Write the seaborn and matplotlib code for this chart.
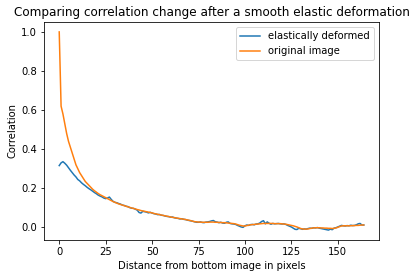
import matplotlib
matplotlib.use("Agg")
import matplotlib.pyplot as plt
import seaborn as sns
import numpy as np

title = "Comparing correlation change after a smooth elastic deformation"
xlabel = "Distance from bottom image in pixels"
ylabel = "Correlation"
label_deformed = "elastically deformed"
label_original = "original image"

original = [
    1.00, 0.62, 0.58, 0.53, 0.48, 0.44, 0.41, 0.38, 0.35, 0.32,
    0.30, 0.28, 0.265, 0.25, 0.235, 0.225, 0.215, 0.205, 0.195, 0.187,
    0.18, 0.173, 0.167, 0.162, 0.157, 0.152, 0.147, 0.142, 0.137, 0.132,
    0.128, 0.124, 0.120, 0.117, 0.114, 0.111, 0.108, 0.105, 0.102, 0.099,
    0.097, 0.094, 0.091, 0.089, 0.086, 0.084, 0.082, 0.080, 0.078, 0.076,
    0.074, 0.071, 0.069, 0.067, 0.065, 0.063, 0.061, 0.059, 0.057, 0.055,
    0.053, 0.051, 0.050, 0.048, 0.046, 0.045, 0.043, 0.042, 0.040, 0.038,
    0.036, 0.034, 0.031, 0.029, 0.028, 0.027, 0.027, 0.026, 0.026, 0.026,
    0.026, 0.027, 0.027, 0.027, 0.026, 0.026, 0.025, 0.025, 0.024, 0.024,
    0.023, 0.022, 0.021, 0.020, 0.019, 0.017, 0.014, 0.011, 0.009, 0.007,
    0.007, 0.009, 0.011, 0.013, 0.014, 0.015, 0.016, 0.017, 0.018, 0.019,
    0.020, 0.020, 0.020, 0.020, 0.020, 0.020, 0.019, 0.019, 0.019, 0.019,
    0.018, 0.017, 0.016, 0.014, 0.012, 0.010, 0.008, 0.005, 0.002, -0.002,
    -0.006, -0.008, -0.009, -0.009, -0.008, -0.006, -0.004, -0.003, -0.002, -0.002,
    -0.002, -0.003, -0.003, -0.004, -0.004, -0.005, -0.005, -0.006, -0.005, -0.003,
    0.000, 0.004, 0.007, 0.008, 0.008, 0.008, 0.008, 0.008, 0.009, 0.009,
    0.010, 0.010, 0.011, 0.012, 0.012,
]

deformed = [
    0.316, 0.330, 0.336, 0.328, 0.318, 0.305, 0.292, 0.280, 0.268, 0.258,
    0.245, 0.238, 0.228, 0.220, 0.213, 0.205, 0.198, 0.192, 0.185, 0.178,
    0.172, 0.165, 0.160, 0.156, 0.150, 0.147, 0.150, 0.155, 0.143, 0.133,
    0.128, 0.126, 0.122, 0.119, 0.114, 0.112, 0.108, 0.106, 0.101, 0.098,
    0.097, 0.093, 0.088, 0.076, 0.073, 0.082, 0.080, 0.078, 0.074, 0.077,
    0.073, 0.070, 0.068, 0.065, 0.066, 0.062, 0.061, 0.058, 0.056, 0.055,
    0.052, 0.053, 0.049, 0.047, 0.046, 0.043, 0.044, 0.041, 0.040, 0.037,
    0.035, 0.033, 0.031, 0.028, 0.026, 0.026, 0.028, 0.025, 0.024, 0.027,
    0.028, 0.030, 0.033, 0.035, 0.029, 0.027, 0.024, 0.026, 0.022, 0.021,
    0.026, 0.028, 0.020, 0.018, 0.017, 0.015, 0.010, 0.006, 0.002, 0.000,
    0.008, 0.012, 0.010, 0.014, 0.015, 0.013, 0.017, 0.018, 0.022, 0.030,
    0.034, 0.018, 0.028, 0.021, 0.016, 0.020, 0.018, 0.019, 0.020, 0.018,
    0.017, 0.018, 0.015, 0.010, 0.006, 0.002, -0.004, -0.010, -0.011, -0.005,
    -0.007, -0.010, -0.008, -0.009, -0.006, -0.004, -0.005, -0.002, -0.003, -0.001,
    -0.004, -0.006, -0.008, -0.010, -0.012, -0.014, -0.009, -0.012, -0.004, -0.002,
    0.002, 0.006, 0.010, 0.008, 0.007, 0.009, 0.008, 0.011, 0.009, 0.010,
    0.013, 0.018, 0.020, 0.012, 0.012,
]

distance = np.arange(len(original))

W, H = 417, 278
fig = plt.figure(figsize=(W / 72, H / 72), dpi=72)
ax = fig.add_axes([44 / W, 1 - 240 / H, (379 - 44) / W, (240 - 22) / H])

sns.lineplot(x=distance, y=deformed, ax=ax, color="#1f77b4", label=label_deformed)
sns.lineplot(x=distance, y=original, ax=ax, color="#ff7f0e", label=label_original)

ax.set_xticks([0, 25, 50, 75, 100, 125, 150])
ax.set_yticks([0.0, 0.2, 0.4, 0.6, 0.8, 1.0])
ax.set_title(title, fontsize=12)
ax.set_xlabel(xlabel, fontsize=10)
ax.set_ylabel(ylabel, fontsize=10)
ax.tick_params(labelsize=10)
ax.legend(loc="upper right", fontsize=10)

fig.savefig("out.png", dpi=72)
